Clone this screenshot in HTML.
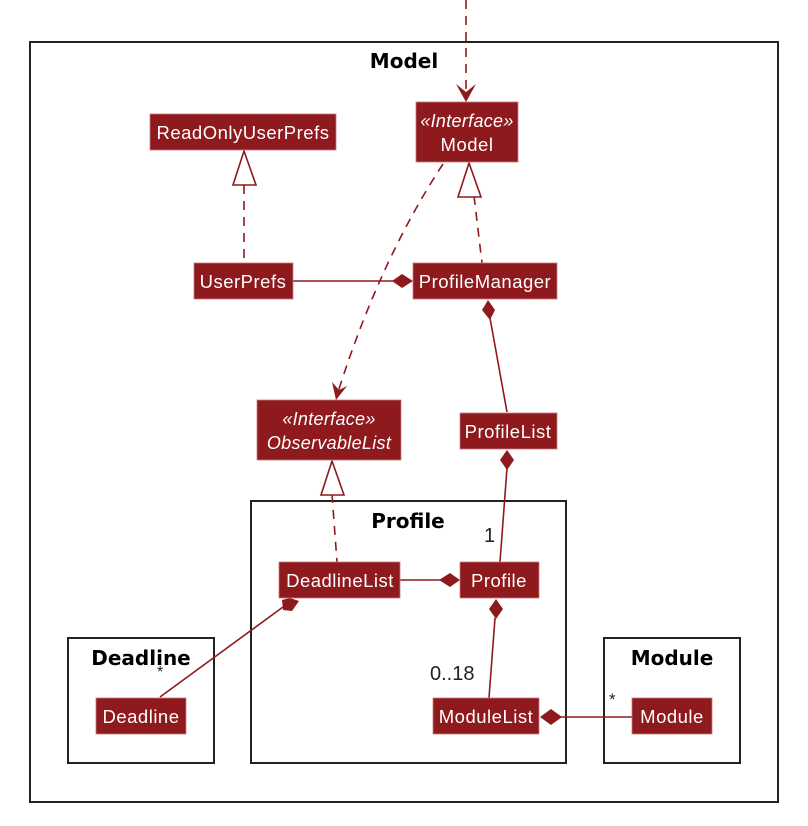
<!DOCTYPE html>
<html><head><meta charset="utf-8"><style>
html,body{margin:0;padding:0;background:#fff;width:808px;height:826px;overflow:hidden}
svg{display:block}
.c{fill:#8e1a1e;stroke:#c97c7e;stroke-width:0.8}
.t{fill:#fff;font-family:"Liberation Sans",sans-serif;font-size:18.5px;letter-spacing:0.5px;text-anchor:middle}
.ti{fill:#fff;font-family:"Liberation Sans",sans-serif;font-size:18px;letter-spacing:0.3px;text-anchor:middle;font-style:italic}
.pk{fill:none;stroke:#222;stroke-width:2}
.pt{fill:#000;font-family:"DejaVu Sans",sans-serif;font-weight:bold;font-size:20px;text-anchor:middle}
.l{stroke:#8e1a1e;stroke-width:1.6;fill:none}
.d{stroke:#8e1a1e;stroke-width:1.6;fill:none;stroke-dasharray:9,7}
.dm{fill:#8e1a1e}
.tri{fill:#fff;stroke:#8e1a1e;stroke-width:1.6}
.lb{fill:#222;font-family:"Liberation Sans",sans-serif;font-size:20px}
</style></head><body>
<svg width="808" height="826" viewBox="0 0 808 826" xmlns="http://www.w3.org/2000/svg">
<rect class="pk" x="30" y="42" width="748" height="760"/>
<text class="pt" x="404" y="68">Model</text>
<rect class="pk" x="251" y="501" width="315" height="262"/>
<text class="pt" x="408" y="528">Profile</text>
<rect class="pk" x="68" y="638" width="146" height="125"/>
<text class="pt" x="141" y="665">Deadline</text>
<rect class="pk" x="604" y="638" width="136" height="125"/>
<text class="pt" x="672" y="665">Module</text>

<line class="d" x1="466" y1="0" x2="466" y2="98"/>
<path class="dm" d="M456,84 L466,102 L476,84 L466,92 Z"/>

<line class="d" x1="244" y1="185" x2="244" y2="263"/>
<polygon class="tri" points="244,151 233,185 256,185"/>

<line class="d" x1="474" y1="196" x2="482" y2="263"/>
<polygon class="tri" points="469,163 458,197 481,197"/>

<path class="d" d="M443,164 Q380,260 338,392"/>
<path class="dm" d="M332,382 L336,400 L347,386 L339,390 Z"/>

<line class="l" x1="293" y1="281" x2="393" y2="281"/>
<polygon class="dm" points="392,281 402,274 413,281 402,288"/>

<line class="l" x1="490" y1="318" x2="507" y2="412"/>
<polygon class="dm" points="488,300 495,310 490,320 482,310"/>

<line class="l" x1="507" y1="468" x2="500" y2="562"/>
<polygon class="dm" points="507,450 514,460 507,470 500,460"/>
<text class="lb" x="484" y="542">1</text>

<line class="d" x1="332" y1="494" x2="337" y2="562"/>
<polygon class="tri" points="332,461 321,495 344,495"/>

<line class="l" x1="400" y1="580" x2="440" y2="580"/>
<polygon class="dm" points="439,580 450,573 460,580 450,587"/>

<line class="l" x1="495" y1="618" x2="489" y2="698"/>
<polygon class="dm" points="496,599 503,609 496,619 489,609"/>
<text class="lb" x="430" y="680">0..18</text>

<line class="l" x1="160" y1="697" x2="283" y2="607"/>
<polygon class="dm" points="282,600 290,598 299,601 292,611 283,610"/>
<text class="lb" x="157" y="677" style="font-size:16px">*</text>

<line class="l" x1="560" y1="717" x2="632" y2="717"/>
<polygon class="dm" points="540,717 551,709 562,717 551,725"/>
<text class="lb" x="609" y="705" style="font-size:17px">*</text>

<rect class="c" x="150" y="114" width="186" height="36"/>
<text class="t" x="243" y="139">ReadOnlyUserPrefs</text>

<rect class="c" x="416" y="102" width="102" height="60"/>
<text class="ti" x="467" y="127">«Interface»</text>
<text class="t" x="467" y="151">Model</text>

<rect class="c" x="194" y="263" width="99" height="36"/>
<text class="t" x="243" y="288">UserPrefs</text>

<rect class="c" x="413" y="263" width="144" height="36"/>
<text class="t" x="485" y="288">ProfileManager</text>

<rect class="c" x="257" y="400" width="144" height="60"/>
<text class="ti" x="329" y="425">«Interface»</text>
<text class="ti" x="329" y="449">ObservableList</text>

<rect class="c" x="460" y="413" width="97" height="36"/>
<text class="t" x="508" y="438">ProfileList</text>

<rect class="c" x="279" y="562" width="121" height="36"/>
<text class="t" x="340" y="587">DeadlineList</text>

<rect class="c" x="460" y="562" width="79" height="36"/>
<text class="t" x="499" y="587">Profile</text>

<rect class="c" x="96" y="698" width="90" height="36"/>
<text class="t" x="141" y="723">Deadline</text>

<rect class="c" x="433" y="698" width="106" height="36"/>
<text class="t" x="486" y="723">ModuleList</text>

<rect class="c" x="632" y="698" width="80" height="36"/>
<text class="t" x="672" y="723">Module</text>
</svg>
</body></html>
